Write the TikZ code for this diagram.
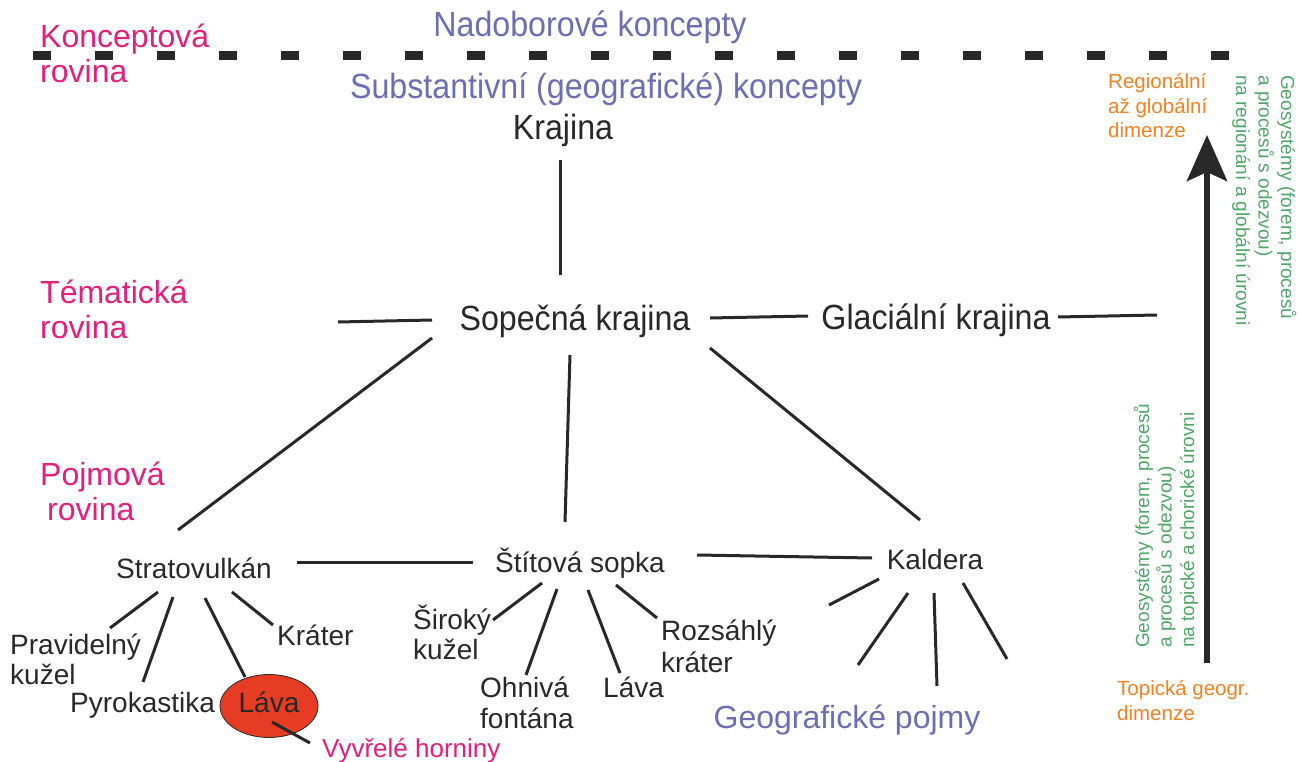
\documentclass[tikz,border=0pt]{standalone}
\usepackage{fontspec}
\setmainfont{Liberation Sans}
\newfontfamily\narrowfont[FakeStretch=0.92]{Liberation Sans}
\usetikzlibrary{shapes.geometric, arrows.meta}

\definecolor{inkgray}{RGB}{40,40,40}
\definecolor{planepink}{RGB}{228,30,122}
\definecolor{conceptblue}{RGB}{108,110,180}
\definecolor{dimorange}{RGB}{245,128,32}
\definecolor{geogreen}{RGB}{78,166,100}
\definecolor{lavared}{RGB}{230,60,36}

\tikzstyle{link} = [inkgray, line width=3pt]
\tikzstyle{term} = [inner sep=0pt, text=inkgray, font=\fontsize{28}{30}\selectfont, align=left, anchor=base west]
\tikzstyle{topic} = [inner sep=0pt, text=inkgray, font=\narrowfont\fontsize{35}{38}\selectfont, anchor=base]
\tikzstyle{plane} = [inner sep=0pt, text=planepink, font=\fontsize{32}{35}\selectfont, align=left, anchor=base west]
\tikzstyle{concept} = [inner sep=0pt, text=conceptblue, font=\narrowfont\fontsize{35}{38}\selectfont, anchor=base]
\tikzstyle{dimension} = [inner sep=0pt, text=dimorange, font=\fontsize{20.5}{24.5}\selectfont, align=left, anchor=base west]
\tikzstyle{geosystem} = [inner sep=0pt, text=geogreen, font=\fontsize{19}{22.5}\selectfont, align=left, anchor=base west]

\begin{document}
\begin{tikzpicture}[x=1pt, y=-1pt]
\useasboundingbox (0,0) rectangle (1300,762);

% planes (multi-line nodes sit on their last baseline)
\draw [inkgray, line width=9pt, dash pattern=on 18pt off 44pt] (33,56) -- (1233,56);
\node[plane] (konceptova) at (40,83) {Konceptová\\rovina};
\node[plane] (tematicka) at (40,338) {Tématická\\rovina};
\node[plane] (pojmova) at (40,520) {Pojmová\\\hspace*{7pt}rovina};

\node[concept] (nadoborove) at (590,37) {Nadoborové koncepty};
\node[concept] (substantivni) at (606,99) {Substantivní (geografické) koncepty};
\node[concept, font=\fontsize{32}{35}\selectfont] (geo_pojmy) at (847,728) {Geografické pojmy};

% landscapes
\node[topic] (krajina) at (563,140) {Krajina};
\node[topic] (sopecna) at (575,330) {Sopečná krajina};
\node[topic] (glacialni) at (936,329) {Glaciální krajina};
\coordinate (tema_stub) at (338,322);
\coordinate (glacial_stub) at (1157,315);

\draw [link] ([shift={(-3,20)}]krajina.base) -- ([shift={(-15,-55)}]sopecna.base);
\draw [link] ([shift={(-143,-10)}]sopecna.base) -- (tema_stub);
\draw [link] ([shift={(135,-12)}]sopecna.base) -- ([shift={(-128,-13)}]glacialni.base);
\draw [link] ([shift={(122,-12)}]glacialni.base) -- (glacial_stub);

% volcanic forms
\node[term, anchor=base] (strato) at (194,578) {Stratovulkán};
\node[term, anchor=base] (stitova) at (580,572) {Štítová sopka};
\node[term, anchor=base] (kaldera) at (935,569) {Kaldera};

\draw [link] ([shift={(-143,8)}]sopecna.base) -- ([shift={(-16,-48)}]strato.base);
\draw [link] ([shift={(-5,25)}]sopecna.base) -- ([shift={(-15,-50)}]stitova.base);
\draw [link] ([shift={(135,18)}]sopecna.base) -- ([shift={(-15,-49)}]kaldera.base);
\draw [link] ([shift={(103,-16)}]strato.base) -- ([shift={(-107,-10)}]stitova.base);
\draw [link] ([shift={(117,-17)}]stitova.base) -- ([shift={(-63,-11)}]kaldera.base);

% stratovolcano
\node[term] (pravidelny) at (10,684) {Pravidelný\\kužel};
\node[term] (pyrokastika) at (70,712) {Pyrokastika};
\node[ellipse, draw=inkgray, line width=0.8pt, fill=lavared, minimum width=98pt, minimum height=63pt,
      inner sep=0pt, text height=21pt, text depth=8pt, text=inkgray, font=\fontsize{28}{30}\selectfont] (lava) at (269,706) {Láva};
\node[term] (krater) at (277,645) {Kráter};
\node[term, text=planepink, font=\fontsize{26}{28}\selectfont] (vyvrele) at (322,757) {Vyvřelé horniny};

\draw [link] ([shift={(-36,14)}]strato.base) -- ([shift={(100,-56)}]pravidelny.base west);
\draw [link] ([shift={(-21,19)}]strato.base) -- ([shift={(73,-30)}]pyrokastika.base west);
\draw [link] ([shift={(11,20)}]strato.base) -- ([shift={(-24,-29)}]lava.center);
\draw [link] ([shift={(38,14)}]strato.base) -- ([shift={(-4,-20)}]krater.base west);
\draw [link] ([shift={(3,16)}]lava.center) -- ([shift={(-12,-14)}]vyvrele.base west);

% shield volcano
\node[term] (siroky) at (413,659) {Široký\\kužel};
\node[term, font=\fontsize{28}{31}\selectfont] (ohniva) at (480,728) {Ohnivá\\fontána};
\node[term] (lava_stit) at (603,697) {Láva};
\node[term, font=\fontsize{28}{32}\selectfont] (rozsahly) at (661,672) {Rozsáhlý\\kráter};

\draw [link] ([shift={(-38,11)}]stitova.base) -- ([shift={(80,-39)}]siroky.base west);
\draw [link] ([shift={(-23,17)}]stitova.base) -- ([shift={(46,-53)}]ohniva.base west);
\draw [link] ([shift={(8,18)}]stitova.base) -- ([shift={(17,-24)}]lava_stit.base west);
\draw [link] ([shift={(36,13)}]stitova.base) -- ([shift={(-4,-54)}]rozsahly.base west);

% caldera
\coordinate (kaldera_a) at (829,605);
\coordinate (kaldera_b) at (858,665);
\coordinate (kaldera_c) at (937,686);
\coordinate (kaldera_d) at (1007,659);

\draw [link] ([shift={(-56,10)}]kaldera.base) -- (kaldera_a);
\draw [link] ([shift={(-27,24)}]kaldera.base) -- (kaldera_b);
\draw [link] ([shift={(-1,24)}]kaldera.base) -- (kaldera_c);
\draw [link] ([shift={(28,14)}]kaldera.base) -- (kaldera_d);

% dimensions
\node[dimension] (regionalni) at (1108,138) {Regionální\\až globální\\dimenze};
\node[dimension] (topicka) at (1117,720) {Topická geogr.\\dimenze};
\node[geosystem, rotate=-90] (geo_regional) at (1236,75) {Geosystémy (forem, procesů\\a procesů s odezvou)\\na regionání a globální úrovni};
\node[geosystem, rotate=90] (geo_topic) at (1194,648) {Geosystémy (forem, procesů\\a procesů s odezvou)\\na topické a chorické úrovni};

\coordinate (scale_foot) at (1207,663);
\coordinate (scale_tip) at (1207,135);
\draw [inkgray, line width=6.5pt, -{Stealth[length=46pt, width=40pt, inset=9pt]}] (scale_foot) -- (scale_tip);

\end{tikzpicture}
\end{document}
